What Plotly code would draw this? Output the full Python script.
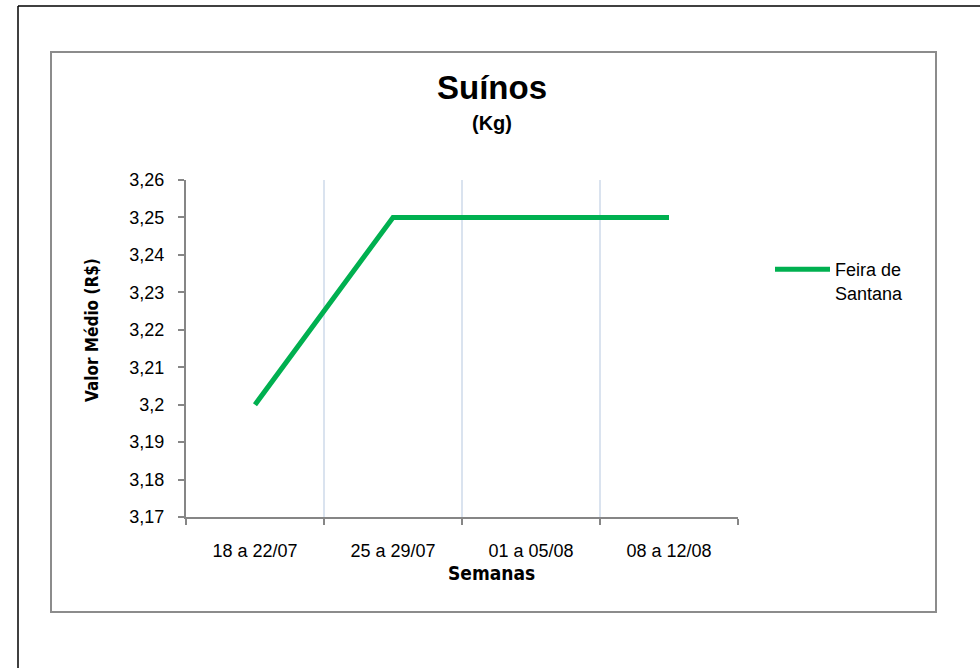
import plotly.graph_objects as go

categories = ["18 a 22/07", "25 a 29/07", "01 a 05/08", "08 a 12/08"]
values = [3.20, 3.25, 3.25, 3.25]
series_name = "Feira de<br>Santana"
y_tickvals = [3.17, 3.18, 3.19, 3.20, 3.21, 3.22, 3.23, 3.24, 3.25, 3.26]
y_ticktext = ["3,17", "3,18", "3,19", "3,2", "3,21", "3,22", "3,23", "3,24", "3,25", "3,26"]

W, H = 980, 668
L, R, T, B = 186, 738, 180, 517

def px(x):
    return (x - L) / (R - L)

def py(y):
    return (B - y) / (B - T)

fig = go.Figure()
fig.add_trace(go.Scatter(
    x=categories, y=values, mode="lines", name=series_name,
    line=dict(color="#00B050", width=5), hoverinfo="skip",
))

font_main = "Liberation Sans, Arial, sans-serif"
font_narrow = "DejaVu Sans Condensed, Liberation Sans Narrow, sans-serif"

fig.update_layout(
    width=W, height=H, autosize=False,
    margin=dict(l=L, r=W - R, t=T, b=H - B, pad=0),
    paper_bgcolor="white", plot_bgcolor="white",
    font=dict(family=font_main, size=18, color="#000000"),
    showlegend=True,
    hovermode=False,
    legend=dict(
        x=px(770), y=py(251), xanchor="left", yanchor="top",
        font=dict(family=font_main, size=18, color="#000000"),
        itemwidth=55, bgcolor="rgba(0,0,0,0)", valign="top",
    ),
    xaxis=dict(
        type="category", range=[-0.5, 3.5],
        showline=True, linecolor="#868686", linewidth=2,
        ticks="outside", tickson="boundaries", ticklen=6, tickcolor="#868686", tickwidth=2,
        showgrid=True, gridcolor="#DAE3EF", gridwidth=1.5,
        tickfont=dict(family=font_main, size=18, color="#000000"),
        ticklabelstandoff=16,
        zeroline=False,
    ),
    yaxis=dict(
        range=[3.17, 3.26],
        tickvals=y_tickvals, ticktext=y_ticktext,
        showline=True, linecolor="#868686", linewidth=2,
        ticks="outside", ticklen=6, tickcolor="#868686", tickwidth=2,
        showgrid=False, zeroline=False,
        tickfont=dict(family=font_main, size=18, color="#000000"),
        ticklabelstandoff=10,
    ),
    shapes=[
        dict(type="line", xref="paper", yref="paper",
             x0=px(18), x1=px(1000), y0=py(6), y1=py(6),
             line=dict(color="#000000", width=1.5), layer="below"),
        dict(type="line", xref="paper", yref="paper",
             x0=px(18), x1=px(18), y0=py(6), y1=py(700),
             line=dict(color="#000000", width=1.5), layer="below"),
        dict(type="rect", xref="paper", yref="paper",
             x0=px(51), x1=px(936), y0=py(52), y1=py(612),
             line=dict(color="#8C8C8C", width=2), layer="below"),
    ],
    annotations=[
        dict(text="<b>Suínos</b>", xref="paper", yref="paper",
             x=px(492), y=py(88), xanchor="center", yanchor="middle",
             showarrow=False, font=dict(family=font_main, size=33, color="#000000")),
        dict(text="<b>(Kg)</b>", xref="paper", yref="paper",
             x=px(492), y=py(123), xanchor="center", yanchor="middle",
             showarrow=False, font=dict(family=font_main, size=20, color="#000000")),
        dict(text="<b>Semanas</b>", xref="paper", yref="paper",
             x=px(491), y=py(573), xanchor="center", yanchor="middle",
             showarrow=False, font=dict(family=font_narrow, size=19, color="#000000")),
        dict(text="<b>Valor Médio (R$)</b>", xref="paper", yref="paper",
             x=px(92), y=py(330), xanchor="center", yanchor="middle", textangle=-90,
             showarrow=False, font=dict(family=font_narrow, size=17, color="#000000")),
    ],
)

fig.write_html("out.html", config={"displayModeBar": False, "staticPlot": True},
               post_script="document.body.style.margin='0px';")
